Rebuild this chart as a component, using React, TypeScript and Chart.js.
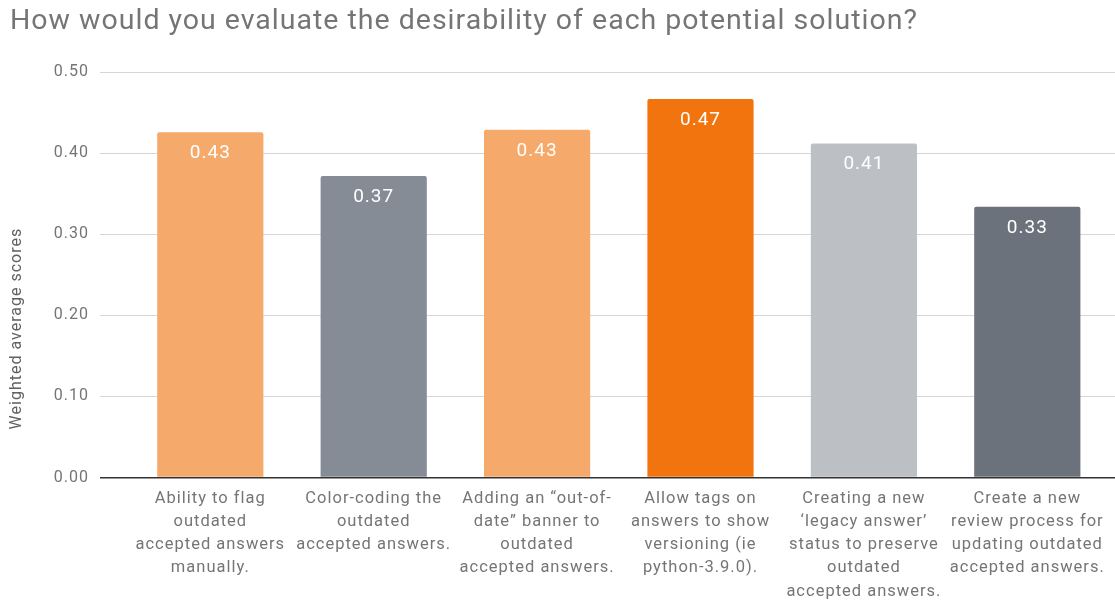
import React, { useEffect, useRef } from "react";
import { Chart, registerables } from "chart.js";

Chart.register(...registerables);

const TITLE = "How would you evaluate the desirability of each potential solution?";
const Y_TITLE = "Weighted average scores";

const categories: string[][] = [
  ["Ability to flag", "outdated", "accepted answers", "manually."],
  ["Color-coding the", "outdated", "accepted answers."],
  ["Adding an “out-of-", "date” banner to", "outdated", "accepted answers."],
  ["Allow tags on", "answers to show", "versioning (ie", "python-3.9.0)."],
  ["Creating a new", "‘legacy answer’", "status to preserve", "outdated", "accepted answers."],
  ["Create a new", "review process for", "updating outdated", "accepted answers."],
];

const scores: number[] = [0.426, 0.372, 0.429, 0.467, 0.412, 0.334];

const barColors: string[] = ["#F5AA6C", "#858C95", "#F5AA6C", "#F2740F", "#BCC0C4", "#6C727B"];

const yTicks: number[] = [0, 0.1, 0.2, 0.3, 0.4, 0.5];

const FONT = "Roboto, 'Noto Sans', sans-serif";

function setSpacing(chart: any) {
  if (chart.ctx && "letterSpacing" in chart.ctx) {
    chart.ctx.letterSpacing = "1px";
  }
}

const spacingPlugin = {
  id: "spacing",
  beforeUpdate(chart: any) {
    setSpacing(chart);
  },
  beforeLayout(chart: any) {
    setSpacing(chart);
  },
  beforeDraw(chart: any) {
    setSpacing(chart);
  },
};

const valueLabelPlugin = {
  id: "valueLabels",
  afterDatasetsDraw(chart: any) {
    const ctx = chart.ctx;
    const meta = chart.getDatasetMeta(0);
    ctx.save();
    ctx.font = `19px ${FONT}`;
    ctx.fillStyle = "#ffffff";
    ctx.textAlign = "center";
    ctx.textBaseline = "middle";
    meta.data.forEach((el: any, i: number) => {
      ctx.fillText(scores[i].toFixed(2), el.x, el.y + 21);
    });
    ctx.restore();
  },
};

const yTitlePlugin = {
  id: "yTitleCustom",
  afterDraw(chart: any) {
    const ctx = chart.ctx;
    const top = chart.chartArea.top;
    const bottom = chart.scales.x.bottom;
    ctx.save();
    ctx.translate(17, (top + bottom) / 2 - 11);
    ctx.rotate(-Math.PI / 2);
    ctx.font = `16px ${FONT}`;
    ctx.fillStyle = "#616161";
    ctx.textAlign = "center";
    ctx.textBaseline = "middle";
    ctx.fillText(Y_TITLE, 0, 0);
    ctx.restore();
  },
};

export default function App() {
  const canvasRef = useRef<HTMLCanvasElement | null>(null);

  useEffect(() => {
    if (!canvasRef.current) return;
    const chart = new Chart(canvasRef.current, {
      type: "bar",
      data: {
        labels: categories,
        datasets: [
          {
            data: scores,
            backgroundColor: barColors,
            borderRadius: 2,
            categoryPercentage: 1,
            barPercentage: 0.65,
          },
        ],
      },
      options: {
        animation: false,
        responsive: true,
        maintainAspectRatio: false,
        layout: { padding: { left: 10, right: 0, top: 0, bottom: 0 } },
        plugins: {
          legend: { display: false },
          tooltip: { enabled: false },
          title: {
            display: true,
            text: TITLE,
            align: "start",
            color: "#757575",
            font: { family: FONT, size: 28.5, weight: "normal" },
            padding: { top: 5, bottom: 33 },
          },
        },
        scales: {
          x: {
            type: "category",
            grid: { display: false },
            border: { display: false },
            afterFit: (s: any) => {
              s.height = 129.5;
            },
            ticks: {
              color: "#757575",
              font: { family: FONT, size: 16.5, lineHeight: 1.4 },
              padding: 2,
              maxRotation: 0,
              minRotation: 0,
              autoSkip: false,
            },
          },
          y: {
            min: 0,
            max: 0.5,
            afterBuildTicks: (s: any) => {
              s.ticks = yTicks.map((v) => ({ value: v }));
            },
            afterFit: (s: any) => {
              s.width = 118.6;
            },
            grid: {
              drawTicks: true,
              tickLength: 28.6,
              color: (c: any) => (c.tick && c.tick.value === 0 ? "#333333" : "#D6D6D6"),
              lineWidth: (c: any) => (c.tick && c.tick.value === 0 ? 1.5 : 1),
            },
            border: { display: false },
            ticks: {
              color: "#757575",
              font: { family: FONT, size: 16 },
              padding: 11,
              callback: (v: any) => Number(v).toFixed(2),
            },
          },
          y2: {
            position: "right",
            min: 0,
            max: 0.5,
            afterBuildTicks: (s: any) => {
              s.ticks = yTicks.map((v) => ({ value: v }));
            },
            afterFit: (s: any) => {
              s.width = 6;
            },
            grid: {
              drawOnChartArea: false,
              drawTicks: true,
              tickLength: 6,
              color: (c: any) => (c.tick && c.tick.value === 0 ? "#333333" : "#D6D6D6"),
              lineWidth: (c: any) => (c.tick && c.tick.value === 0 ? 1.5 : 1),
            },
            border: { display: false },
            ticks: { display: false },
          },
        },
      },
      plugins: [spacingPlugin, valueLabelPlugin, yTitlePlugin],
    } as any);
    return () => chart.destroy();
  }, []);

  return (
    <div style={{ position: "absolute", left: 0, top: 0, width: 1115, height: 607, background: "#ffffff" }}>
      <canvas ref={canvasRef} />
    </div>
  );
}
